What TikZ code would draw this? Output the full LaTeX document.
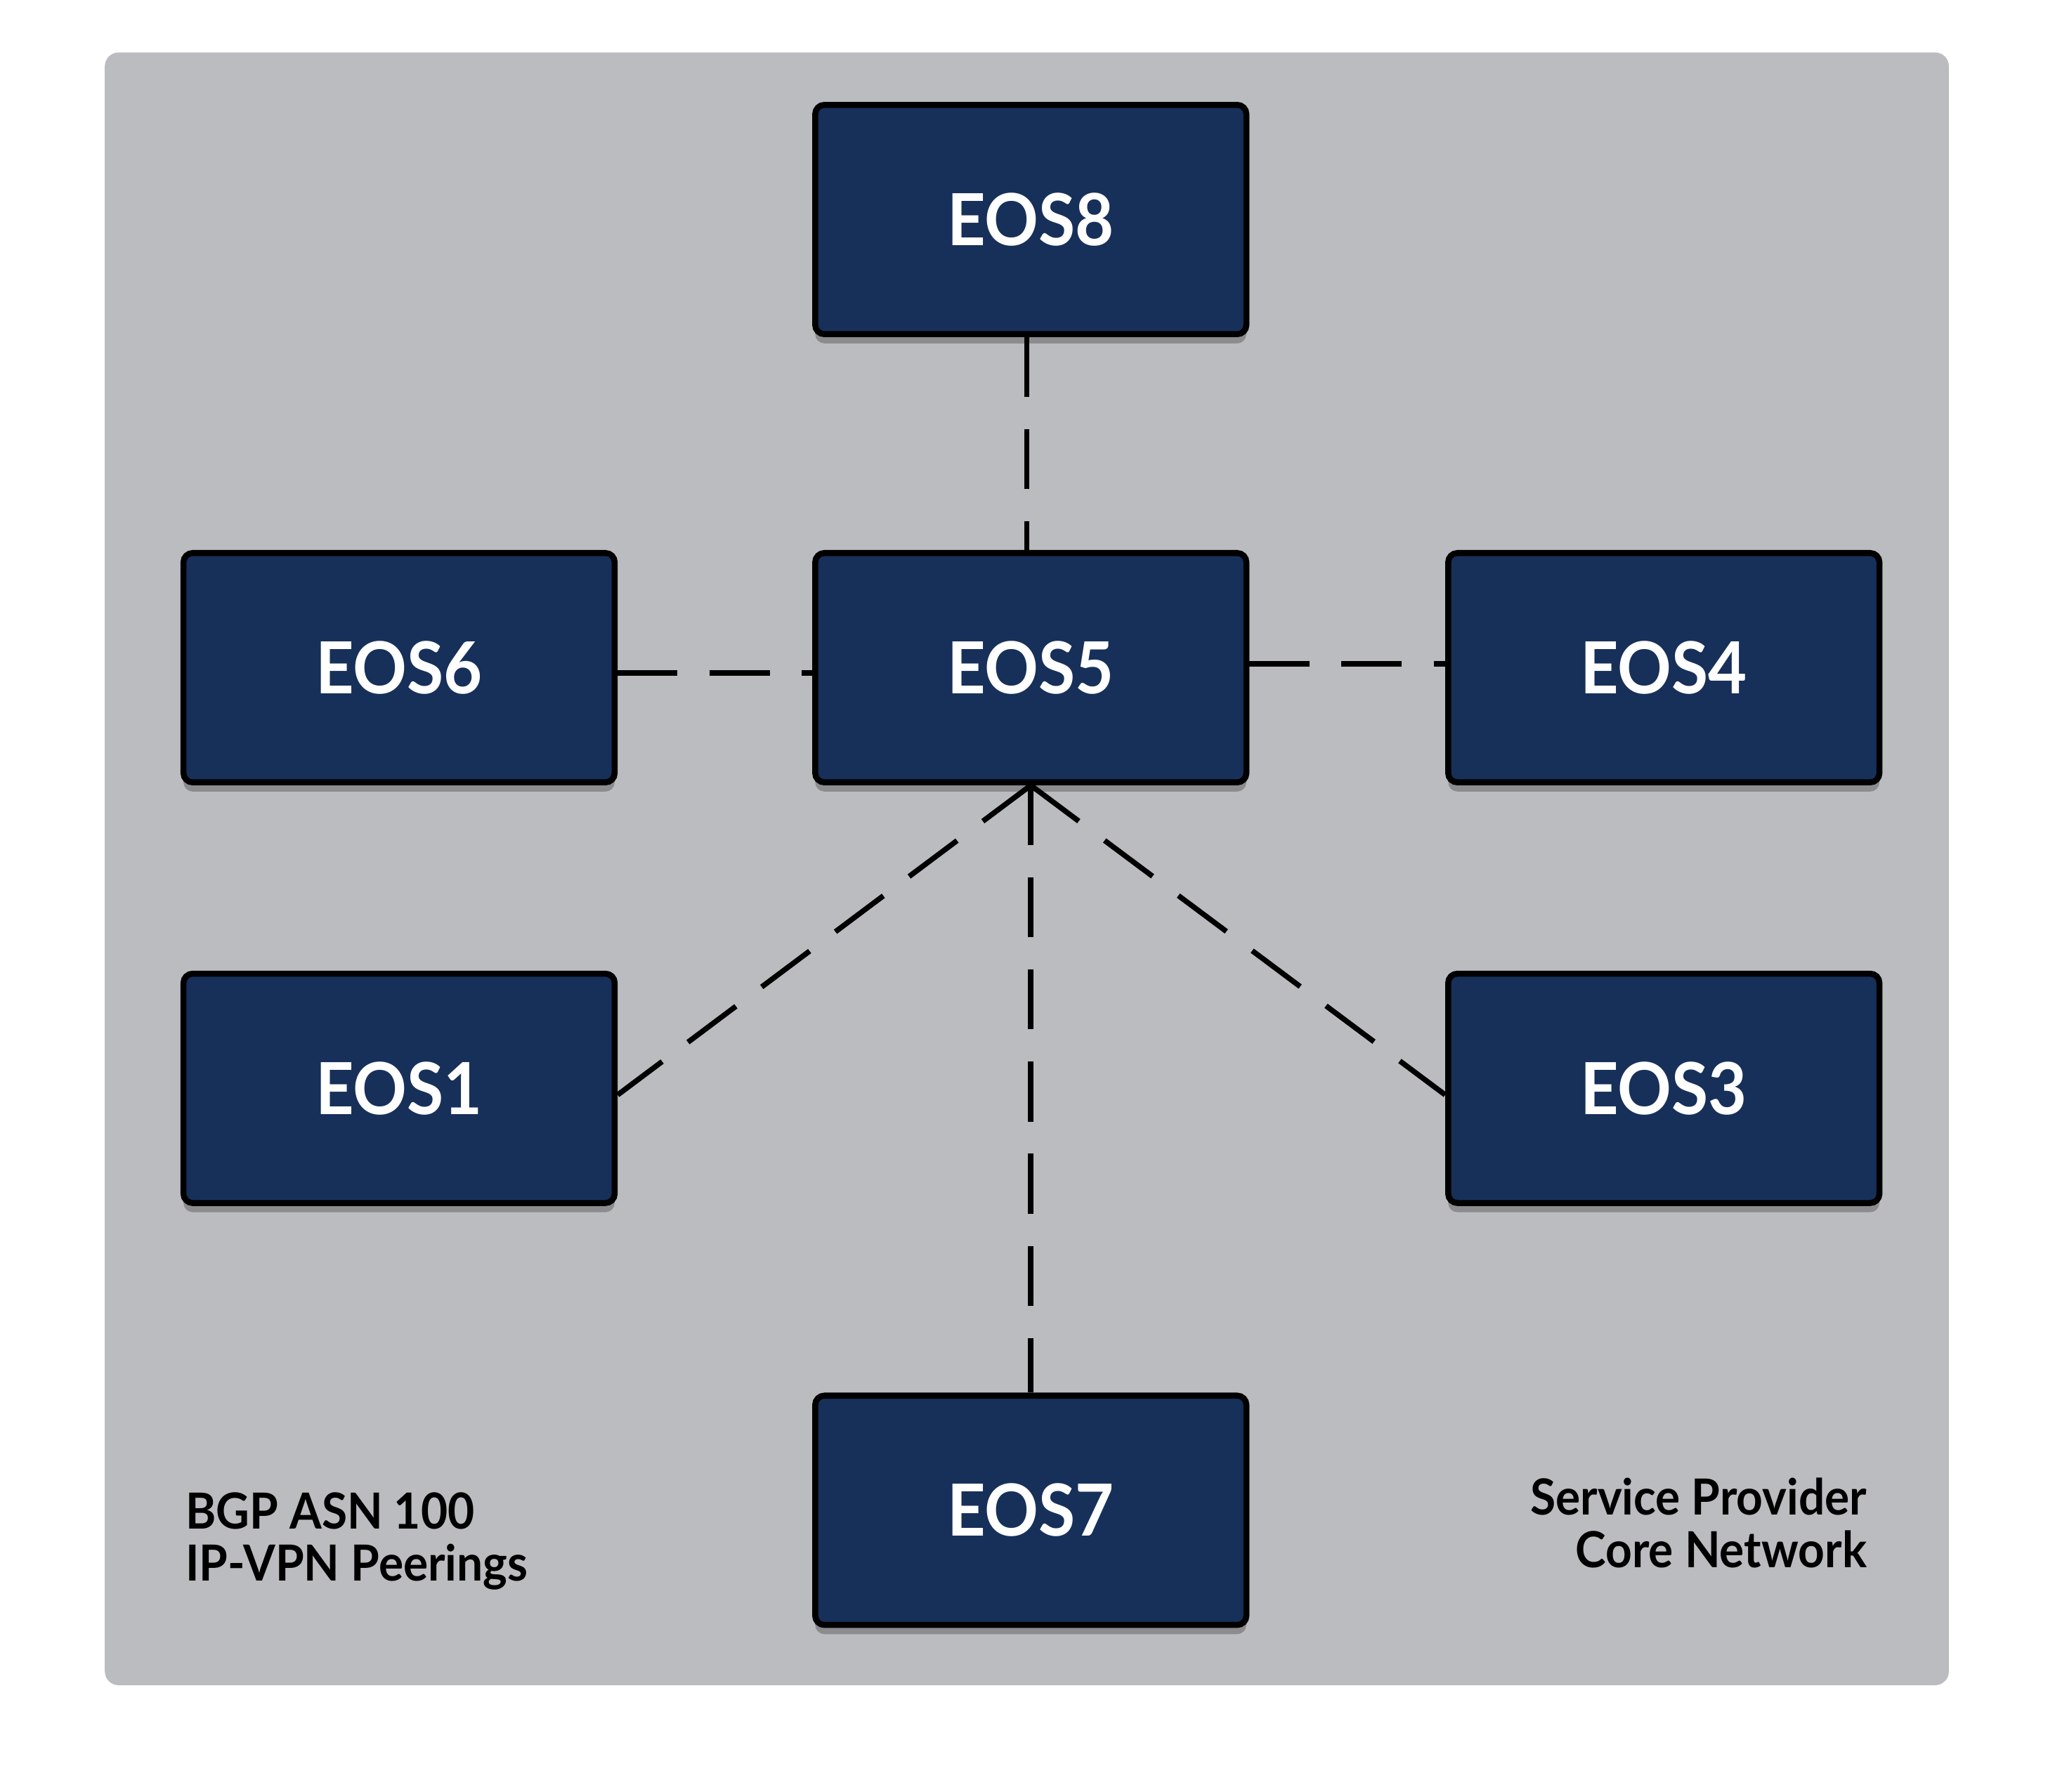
\documentclass[tikz,border=0pt]{standalone}
\usepackage{fontspec}
\setmainfont{Lato}
\newfontfamily\eosfont[FakeStretch = 0.93]{Lato}
\usetikzlibrary{shadows}

\definecolor{eosblue}{HTML}{17305A}
\definecolor{panelgrey}{HTML}{BBBCC0}

\tikzset{
    router/.style = {draw = black, line width = 1.3pt, fill = eosblue, rounded corners = 2pt,
        minimum width = 3.29cm, minimum height = 1.75cm, inner sep = 0pt, text = white,
        font = \eosfont\fontsize{15.6}{18}\selectfont\bfseries,
        drop shadow = {shadow xshift = 0pt, shadow yshift = -2pt, opacity = 0.25, fill = black}},
    peering/.style = {line width = 1.15pt, dash pattern = on 13pt off 7pt},
    caption/.style = {inner sep = 0pt, font = \eosfont\fontsize{10.8}{11.4}\selectfont\bfseries}
}

\begin{document}
\begin{tikzpicture}
        \useasboundingbox (0,0) rectangle (15.68,-13.67);
        \fill[panelgrey, rounded corners = 3pt] (0.80,-0.40) rectangle (14.87,-12.86);

        \node[router] (eos8) at (7.865,-1.675) {EOS8};
        \node[router] (eos6) at (3.045,-5.095) {EOS6};
        \node[router] (eos5) at (7.865,-5.095) {EOS5};
        \node[router] (eos4) at (12.695,-5.095) {EOS4};
        \node[router] (eos1) at (3.045,-8.305) {EOS1};
        \node[router] (eos3) at (12.695,-8.305) {EOS3};
        \node[router] (eos7) at (7.865,-11.525) {EOS7};

        \draw[peering] ([xshift = -0.03cm]eos8.south) -- ([xshift = -0.03cm]eos5.north);
        \draw[peering] ([yshift = -0.04cm]eos6.east) -- ([yshift = -0.04cm]eos5.west);
        \draw[peering] ([yshift = 0.03cm]eos5.east) -- ([yshift = 0.03cm]eos4.west);
        \draw[peering] (eos5.south) -- ([yshift = -0.05cm]eos1.east);
        \draw[peering] (eos5.south) -- ([yshift = -0.05cm]eos3.west);
        \draw[peering] (eos5.south) -- (eos7.north);

        \node[caption, anchor = north west, align = left] (asn) at (1.41,-11.38) {BGP ASN 100\\IP-VPN Peerings};
        \node[caption, anchor = north east, align = right] (core) at (14.25,-11.27) {Service Provider\\Core Network};
    \end{tikzpicture}
\end{document}
